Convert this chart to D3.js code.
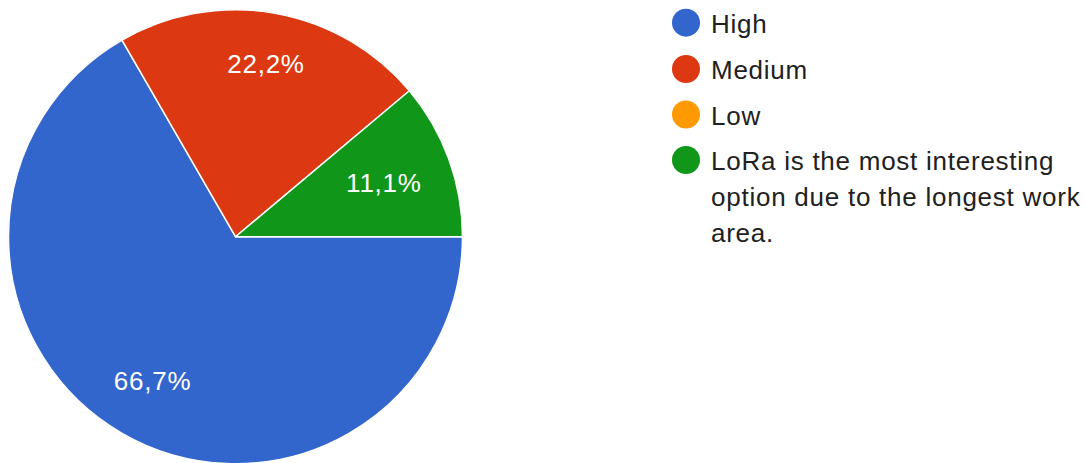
<!DOCTYPE html>
<html>
<head>
<meta charset="utf-8">
<script src="https://cdn.jsdelivr.net/npm/d3@7"></script>
<style>
  html, body { margin: 0; padding: 0; background: #fff; }
  svg { display: block; font-family: "Liberation Sans", Arial, sans-serif; }
</style>
</head>
<body>
<svg id="chart" width="1084" height="463"></svg>
<script>
// Survey answers and their response counts
const categories = ["High", "Medium", "Low", "LoRa is the most interesting option due to the longest work area."];
const counts = [6, 2, 0, 1];
const colors = ["#3366cc", "#dc3912", "#ff9900", "#109618"];
// Legend text split into lines
const legendLines = [["High"], ["Medium"], ["Low"], ["LoRa is the most interesting", "option due to the longest work", "area."]];

const svg = d3.select("#chart");
const cx = 235.5, cy = 236.7, radius = 227;
const fontSize = 26, spacing = 0.75;
const total = d3.sum(counts);

const data = categories.map((c, i) => ({ name: c, value: counts[i], color: colors[i] }));

// Slices start at 3 o'clock and run clockwise
const pie = d3.pie()
  .value(d => d.value)
  .sort(null)
  .startAngle(Math.PI / 2)
  .endAngle(Math.PI / 2 + 2 * Math.PI);

const arcs = pie(data);
const arc = d3.arc().innerRadius(0).outerRadius(radius);

const g = svg.append("g").attr("transform", `translate(${cx},${cy})`);

g.selectAll("path.slice")
  .data(arcs.filter(d => d.value > 0))
  .join("path")
  .attr("class", "slice")
  .attr("d", arc)
  .attr("fill", d => d.data.color)
  .attr("stroke", "#fff")
  .attr("stroke-width", 1.5)
  .attr("stroke-linejoin", "round");

const fmt = v => (Math.round(v / total * 1000) / 10).toFixed(1).replace(".", ",") + "%";

// Percentage labels: slide each label along its slice bisector so that the
// outermost corner of its text box sits at a fixed fraction of the radius.
const reach = 0.87 * radius;
const halfH = 12;
g.selectAll("text.pct")
  .data(arcs.filter(d => d.value > 0))
  .join("text")
  .attr("class", "pct")
  .attr("text-anchor", "middle")
  .attr("dy", "0.36em")
  .attr("fill", "#fff")
  .attr("font-size", fontSize)
  .attr("letter-spacing", spacing)
  .text(d => fmt(d.value))
  .attr("transform", function (d) {
    const a = (d.startAngle + d.endAngle) / 2;
    const ux = Math.sin(a), uy = -Math.cos(a);
    const halfW = this.getComputedTextLength() / 2;
    const c = [Math.sign(ux) * halfW, Math.sign(uy) * halfH];
    const uc = ux * c[0] + uy * c[1];
    const cc = c[0] * c[0] + c[1] * c[1];
    const t = -uc + Math.sqrt(uc * uc - cc + reach * reach);
    return `translate(${t * ux},${t * uy})`;
  });

// Legend
const legend = svg.append("g").attr("transform", "translate(686,0)");
const rowY = [22.7, 69, 114.5, 160];
const lineHeight = 36;

const rows = legend.selectAll("g.row")
  .data(data)
  .join("g")
  .attr("class", "row")
  .attr("transform", (d, i) => `translate(0,${rowY[i]})`);

rows.append("circle")
  .attr("r", 14)
  .attr("fill", d => d.color);

rows.append("text")
  .attr("fill", "#212121")
  .attr("font-size", fontSize)
  .attr("letter-spacing", spacing)
  .selectAll("tspan")
  .data((d, i) => legendLines[i])
  .join("tspan")
  .attr("x", 25)
  .attr("y", (l, j) => j * lineHeight)
  .attr("dy", "0.4em")
  .text(l => l);
</script>
</body>
</html>
